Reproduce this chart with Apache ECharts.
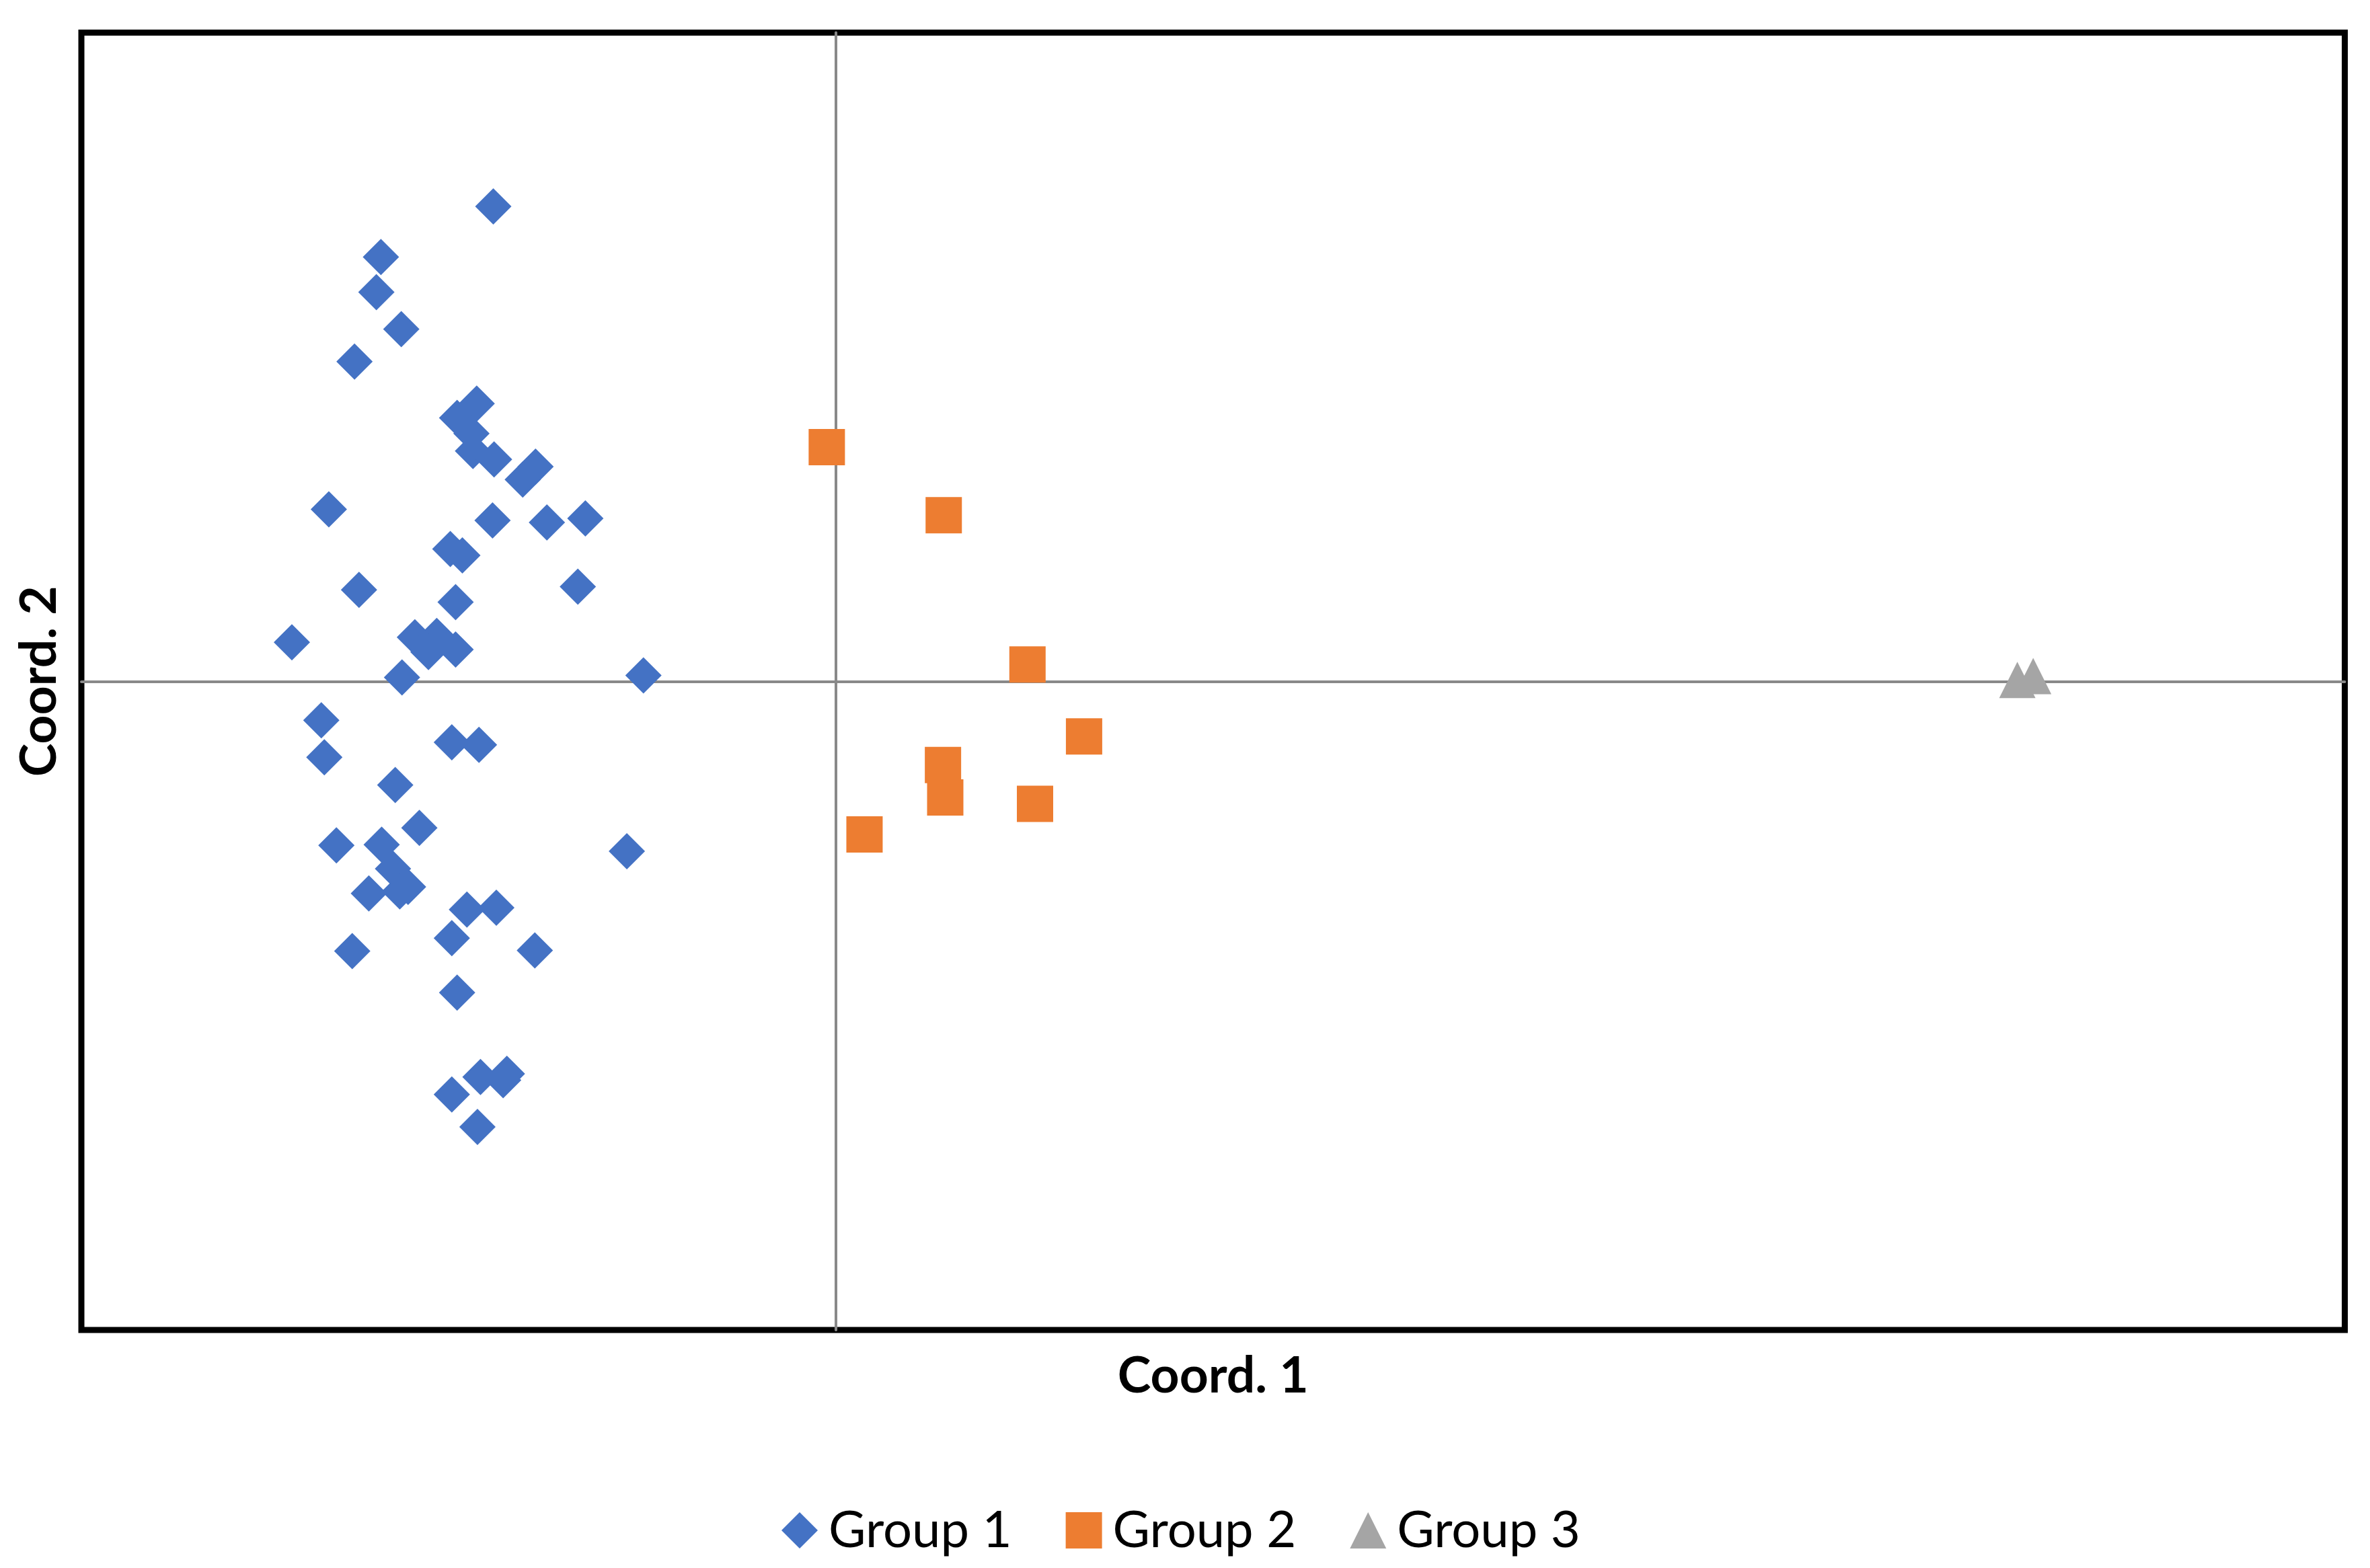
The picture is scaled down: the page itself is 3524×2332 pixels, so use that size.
<!DOCTYPE html>
<html>
<head>
<meta charset="utf-8">
<script src="https://cdn.jsdelivr.net/npm/echarts@6/dist/echarts.min.js"></script>
<style>
html,body{margin:0;padding:0;background:#fff;}
#chart{width:3524px;height:2332px;}
</style>
</head>
<body>
<div id="chart"></div>
<script>
// Series names
const seriesNames = ['Group 1', 'Group 2', 'Group 3'];
const seriesColors = ['#4472C4', '#ED7D31', '#A5A5A5'];

// Axis titles
const xAxisTitle = 'Coord. 1';
const yAxisTitle = 'Coord. 2';

// Axis ranges (no tick labels shown in the reference)
const xRange = [-1, 2];
const yRange = [-1, 1];

// Group 1 [coord1, coord2]
const group1 = [
  [-0.454, 0.732], [-0.603, 0.654], [-0.609, 0.600], [-0.576, 0.543], [-0.638, 0.493],
  [-0.476, 0.428], [-0.502, 0.406], [-0.483, 0.382], [-0.481, 0.355], [-0.453, 0.342],
  [-0.398, 0.331], [-0.415, 0.311], [-0.672, 0.265], [-0.455, 0.248], [-0.383, 0.245],
  [-0.332, 0.251], [-0.511, 0.204], [-0.495, 0.194], [-0.632, 0.141], [-0.342, 0.146],
  [-0.504, 0.122], [-0.721, 0.060], [-0.558, 0.068], [-0.529, 0.070], [-0.540, 0.045],
  [-0.504, 0.049], [-0.575, 0.006], [-0.255, 0.009], [-0.682, -0.060], [-0.678, -0.117],
  [-0.509, -0.094], [-0.473, -0.098], [-0.584, -0.160], [-0.552, -0.226], [-0.662, -0.253],
  [-0.602, -0.252], [-0.587, -0.289], [-0.567, -0.317], [-0.578, -0.324], [-0.619, -0.327],
  [-0.489, -0.352], [-0.450, -0.349], [-0.509, -0.396], [-0.399, -0.415], [-0.641, -0.416],
  [-0.502, -0.480], [-0.277, -0.262], [-0.509, -0.637], [-0.471, -0.610], [-0.436, -0.605],
  [-0.441, -0.615], [-0.475, -0.687]
];

// Group 2 [coord1, coord2]
const group2 = [
  [-0.012, 0.361], [0.143, 0.256], [0.254, 0.026], [0.329, -0.085],
  [0.142, -0.129], [0.145, -0.179], [0.264, -0.189], [0.038, -0.236]
];

// Group 3 [coord1, coord2]
const group3 = [
  [1.566, 0.002], [1.587, 0.008]
];

const chart = echarts.init(document.getElementById('chart'), null, {renderer: 'canvas'});

const FONT = 'Lato, "Open Sans", "Noto Sans", sans-serif';
const axisLineColor = '#898989';

const hiddenAxisBits = {
  axisTick: {show: false},
  axisLabel: {show: false},
  splitLine: {show: false}
};

const option = {
  backgroundColor: '#ffffff',
  animation: false,
  textStyle: {fontFamily: FONT},
  grid: {
    left: 121, top: 48.5, right: 37.5, bottom: 354,
    show: true, borderColor: '#000000', borderWidth: 9, backgroundColor: 'transparent'
  },
  legend: {
    data: seriesNames.map(n => ({name: n})),
    left: 1162,
    top: 2238,
    orient: 'horizontal',
    itemWidth: 54,
    itemHeight: 54,
    itemGap: 80,
    padding: 0,
    textStyle: {
      fontFamily: FONT,
      fontSize: 76,
      color: '#000000',
      lineHeight: 54,
      padding: [0, 0, 0, 11]
    }
  },
  xAxis: [
    Object.assign({
      type: 'value', min: xRange[0], max: xRange[1], position: 'bottom',
      axisLine: {show: true, onZero: true, onZeroAxisIndex: 0, lineStyle: {color: axisLineColor, width: 4}}
    }, hiddenAxisBits),
    Object.assign({
      type: 'value', min: xRange[0], max: xRange[1], position: 'bottom',
      axisLine: {show: false, onZero: false},
      name: xAxisTitle, nameLocation: 'middle', nameGap: 31,
      nameTextStyle: {fontFamily: FONT, fontSize: 75, fontWeight: 'bold', color: '#000000', verticalAlign: 'top'}
    }, hiddenAxisBits)
  ],
  yAxis: [
    Object.assign({
      type: 'value', min: yRange[0], max: yRange[1], position: 'left',
      axisLine: {show: true, onZero: true, onZeroAxisIndex: 0, lineStyle: {color: axisLineColor, width: 4}}
    }, hiddenAxisBits),
    Object.assign({
      type: 'value', min: yRange[0], max: yRange[1], position: 'left',
      axisLine: {show: false, onZero: false},
      name: yAxisTitle, nameLocation: 'middle', nameGap: 25, nameRotate: 90,
      nameTextStyle: {fontFamily: FONT, fontSize: 75, fontWeight: 'bold', color: '#000000'}
    }, hiddenAxisBits)
  ],
  series: [
    {
      name: seriesNames[0], type: 'scatter', xAxisIndex: 0, yAxisIndex: 0,
      symbol: 'diamond', symbolSize: 54, data: group1,
      itemStyle: {color: seriesColors[0], opacity: 1}
    },
    {
      name: seriesNames[1], type: 'scatter', xAxisIndex: 0, yAxisIndex: 0,
      symbol: 'rect', symbolSize: 54, data: group2,
      itemStyle: {color: seriesColors[1], opacity: 1}
    },
    {
      name: seriesNames[2], type: 'scatter', xAxisIndex: 0, yAxisIndex: 0,
      symbol: 'triangle', symbolSize: 54, data: group3,
      itemStyle: {color: seriesColors[2], opacity: 1}
    }
  ]
};

chart.setOption(option);
</script>
</body>
</html>
